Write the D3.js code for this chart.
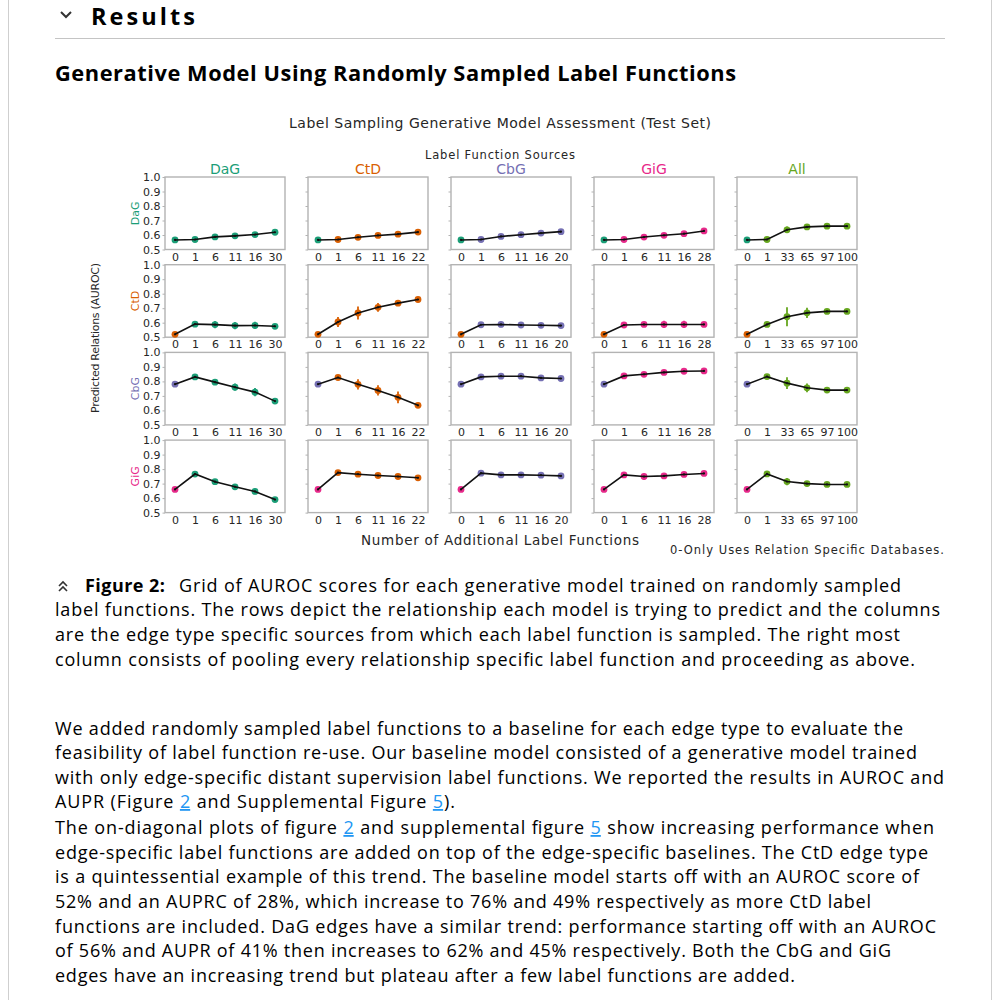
<!DOCTYPE html>
<html><head><meta charset="utf-8">
<script src="https://cdn.jsdelivr.net/npm/d3@7"></script>
<style>
html,body{margin:0;padding:0;background:#fff;}
svg{display:block;}
</style></head><body>
<svg id="page" width="1000" height="1000"></svg>
<script>
// ---------------- data ----------------
const columns = ["DaG", "CtD", "CbG", "GiG", "All"];
const rowsPredicted = ["DaG", "CtD", "CbG", "GiG"];
const sourceColors = ["#1b9e77", "#d95f02", "#7570b3", "#e7298a", "#66a61e"];
const tickLabelsDaG = ["0", "1", "6", "11", "16", "30"];
const tickLabelsCtD = ["0", "1", "6", "11", "16", "22"];
const tickLabelsCbG = ["0", "1", "6", "11", "16", "20"];
const tickLabelsGiG = ["0", "1", "6", "11", "16", "28"];
const tickLabelsAll = ["0", "1", "33", "65", "97", "100"];
const yTicks = [0.5, 0.6, 0.7, 0.8, 0.9, 1.0];

// AUROC per predicted relation (row); one array per label-function source (column)
const aurocDaG = [
  [0.566, 0.569, 0.587, 0.594, 0.603, 0.619],
  [0.566, 0.569, 0.584, 0.597, 0.606, 0.620],
  [0.566, 0.569, 0.590, 0.602, 0.613, 0.623],
  [0.566, 0.569, 0.586, 0.598, 0.609, 0.628],
  [0.566, 0.569, 0.636, 0.656, 0.661, 0.661]
];
const errDaG = [
  [0, 0.004, 0.012, 0.014, 0.008, 0.004],
  [0, 0.004, 0.005, 0.005, 0.005, 0.004],
  [0, 0.004, 0.006, 0.005, 0.004, 0.004],
  [0, 0.004, 0.005, 0.005, 0.004, 0.004],
  [0, 0.004, 0.022, 0.010, 0.005, 0.004]
];
const aurocCtD = [
  [0.520, 0.590, 0.587, 0.580, 0.581, 0.575],
  [0.520, 0.605, 0.667, 0.706, 0.735, 0.760],
  [0.520, 0.586, 0.588, 0.584, 0.582, 0.580],
  [0.520, 0.584, 0.588, 0.588, 0.588, 0.588],
  [0.520, 0.588, 0.641, 0.668, 0.678, 0.678]
];
const errCtD = [
  [0, 0.008, 0.025, 0.025, 0.025, 0.005],
  [0, 0.035, 0.045, 0.030, 0.015, 0.006],
  [0, 0.008, 0.020, 0.015, 0.010, 0.005],
  [0, 0.008, 0.015, 0.025, 0.025, 0.006],
  [0, 0.015, 0.065, 0.035, 0.010, 0.008]
];
const aurocCbG = [
  [0.781, 0.831, 0.795, 0.760, 0.726, 0.664],
  [0.781, 0.827, 0.780, 0.738, 0.690, 0.635],
  [0.781, 0.831, 0.836, 0.836, 0.824, 0.820],
  [0.781, 0.838, 0.849, 0.862, 0.870, 0.872],
  [0.781, 0.833, 0.788, 0.756, 0.740, 0.740]
];
const errCbG = [
  [0, 0.008, 0.015, 0.025, 0.028, 0.005],
  [0, 0.008, 0.035, 0.035, 0.040, 0.005],
  [0, 0.010, 0.015, 0.010, 0.008, 0.005],
  [0, 0.010, 0.015, 0.012, 0.008, 0.005],
  [0, 0.012, 0.040, 0.030, 0.008, 0.008]
];
const aurocGiG = [
  [0.660, 0.766, 0.713, 0.678, 0.646, 0.590],
  [0.660, 0.776, 0.765, 0.756, 0.749, 0.740],
  [0.660, 0.772, 0.760, 0.760, 0.758, 0.753],
  [0.660, 0.760, 0.749, 0.753, 0.763, 0.770],
  [0.660, 0.767, 0.714, 0.700, 0.694, 0.694]
];
const errGiG = [
  [0, 0.010, 0.015, 0.020, 0.020, 0.005],
  [0, 0.008, 0.008, 0.005, 0.005, 0.005],
  [0, 0.005, 0.005, 0.005, 0.005, 0.005],
  [0, 0.020, 0.020, 0.015, 0.015, 0.008],
  [0, 0.010, 0.025, 0.012, 0.008, 0.008]
];

const tickLabelsByColumn = [tickLabelsDaG, tickLabelsCtD, tickLabelsCbG, tickLabelsGiG, tickLabelsAll];
const aurocByRow = [aurocDaG, aurocCtD, aurocCbG, aurocGiG];
const errByRow = [errDaG, errCtD, errCbG, errGiG];

// ---------------- page ----------------
const svg = d3.select("#page");
const PAGE_FONT = "'Open Sans', 'Noto Sans', sans-serif";
const PLOT_FONT = "'DejaVu Sans', sans-serif";

svg.append("rect").attr("width", 1000).attr("height", 1000).attr("fill", "#fff");
// page borders
svg.append("line").attr("x1", 8.5).attr("x2", 8.5).attr("y1", 0).attr("y2", 1000).attr("stroke", "#cfcfcf");
svg.append("line").attr("x1", 991.5).attr("x2", 991.5).attr("y1", 0).attr("y2", 1000).attr("stroke", "#cfcfcf");

// Results heading
svg.append("path").attr("d", "M61,12 L66,17 L71,12").attr("fill", "none").attr("stroke", "#333").attr("stroke-width", 2);
svg.append("text").attr("x", 91).attr("y", 25.3).attr("font-family", PAGE_FONT).attr("font-weight", 700)
  .attr("font-size", 23.5).attr("textLength", 104).attr("fill", "#000").text("Results");
svg.append("line").attr("x1", 55).attr("x2", 945).attr("y1", 38.5).attr("y2", 38.5).attr("stroke", "#c4c4c4");

svg.append("text").attr("x", 55).attr("y", 81).attr("font-family", PAGE_FONT).attr("font-weight", 700)
  .attr("font-size", 21.8).attr("textLength", 681).attr("fill", "#000")
  .text("Generative Model Using Randomly Sampled Label Functions");

// ---------------- chart ----------------
const chart = svg.append("g").attr("font-family", PLOT_FONT);
const left0 = 165, top0 = 177, pitchX = 143, pitchY = 87.7, W = 120, H = 72.5;
const textColor = "#262626";

chart.append("text").attr("x", 500).attr("y", 128).attr("text-anchor", "middle").attr("font-size", 14)
  .attr("textLength", 422).attr("fill", textColor).text("Label Sampling Generative Model Assessment (Test Set)");
chart.append("text").attr("x", 500).attr("y", 159).attr("text-anchor", "middle").attr("font-size", 11.5)
  .attr("textLength", 150).attr("fill", textColor).text("Label Function Sources");

columns.forEach((c, ci) => {
  chart.append("text").attr("x", left0 + ci * pitchX + W / 2).attr("y", 174).attr("text-anchor", "middle")
    .attr("font-size", 14).attr("fill", sourceColors[ci]).text(c);
});

rowsPredicted.forEach((r, ri) => {
  const cy = top0 + ri * pitchY + H / 2;
  chart.append("text").attr("transform", `translate(139,${cy}) rotate(-90)`).attr("text-anchor", "middle")
    .attr("font-size", 11).attr("fill", sourceColors[ri]).text(r);
});

chart.append("text").attr("transform", "translate(99,338) rotate(-90)").attr("text-anchor", "middle")
  .attr("font-size", 11).attr("textLength", 150).attr("fill", textColor).text("Predicted Relations (AUROC)");

chart.append("text").attr("x", 500).attr("y", 545).attr("text-anchor", "middle").attr("font-size", 13.5)
  .attr("textLength", 278).attr("fill", textColor).text("Number of Additional Label Functions");
chart.append("text").attr("x", 944).attr("y", 554).attr("text-anchor", "end").attr("font-size", 11.5)
  .attr("textLength", 274).attr("fill", textColor).text("0-Only Uses Relation Specific Databases.");

rowsPredicted.forEach((rName, ri) => {
  columns.forEach((cName, ci) => {
    const gx = left0 + ci * pitchX, gy = top0 + ri * pitchY;
    const ticks = tickLabelsByColumn[ci];
    const x = d3.scalePoint().domain(ticks).range([gx + 10, gx + W - 10]);
    const y = d3.scaleLinear().domain([0.5, 1.0]).range([gy + H, gy]);
    const g = chart.append("g");

    g.append("rect").attr("x", gx).attr("y", gy).attr("width", W).attr("height", H)
      .attr("fill", "none").attr("stroke", "#b3b3b3").attr("stroke-width", 1.4);

    const ya = g.append("g").attr("transform", `translate(${gx},0)`)
      .call(d3.axisLeft(y).tickValues(yTicks).tickSize(2.5).tickPadding(2)
        .tickFormat(ci === 0 ? d3.format(".1f") : () => ""));
    ya.select(".domain").remove();
    ya.selectAll("line").attr("stroke", "#b3b3b3");
    ya.selectAll("text").attr("font-size", 11).attr("fill", textColor).attr("font-family", PLOT_FONT);

    const xa = g.append("g").attr("transform", `translate(0,${gy + H})`)
      .call(d3.axisBottom(x).tickSize(0).tickPadding(3.5));
    xa.select(".domain").remove();
    xa.selectAll("text").attr("font-size", 11).attr("fill", textColor).attr("font-family", PLOT_FONT);

    const vals = aurocByRow[ri][ci];
    const errs = errByRow[ri][ci];
    const pts = ticks.map((t, i) => ({ t, v: vals[i], e: errs[i], color: i === 0 ? sourceColors[ri] : sourceColors[ci] }));

    g.selectAll(".err").data(pts).enter().append("line")
      .attr("x1", d => x(d.t)).attr("x2", d => x(d.t))
      .attr("y1", d => y(d.v - d.e)).attr("y2", d => y(d.v + d.e))
      .attr("stroke", d => d.color).attr("stroke-width", 1.8);
    g.selectAll(".pt").data(pts).enter().append("circle")
      .attr("cx", d => x(d.t)).attr("cy", d => y(d.v)).attr("r", 3.4)
      .attr("fill", d => d.color);
    g.append("path").datum(pts)
      .attr("d", d3.line().x(d => x(d.t)).y(d => y(d.v)))
      .attr("fill", "none").attr("stroke", "#111").attr("stroke-width", 1.6);
    g.selectAll(".dot").data(pts).enter().append("circle")
      .attr("cx", d => x(d.t)).attr("cy", d => y(d.v)).attr("r", 1.1).attr("fill", "#111");
  });
});

// ---------------- caption & paragraph ----------------
const LINK = "#2196f3";
const BODY_SIZE = 18;
function textLine(segments, x, y, width, size) {
  const t = svg.append("text").attr("x", x).attr("y", y).attr("font-family", PAGE_FONT)
    .attr("font-size", size).attr("fill", "#000");
  if (width) t.attr("textLength", width);
  segments.forEach(s => {
    const ts = t.append("tspan").text(s.t);
    if (s.b) ts.attr("font-weight", 700);
    if (s.link) ts.attr("fill", LINK).attr("text-decoration", "underline");
  });
  return t;
}

// caption icon
svg.append("path").attr("d", "M59,586 L63,582 L67,586 M59,591 L63,587 L67,591")
  .attr("fill", "none").attr("stroke", "#333").attr("stroke-width", 1.6);
textLine([{ t: "Figure 2:", b: true }], 85, 592, 80, BODY_SIZE);
textLine([{ t: "Grid of AUROC scores for each generative model trained on randomly sampled" }], 179, 592, 722, BODY_SIZE);
textLine([{ t: "label functions. The rows depict the relationship each model is trying to predict and the columns" }], 55, 616, 885, BODY_SIZE);
textLine([{ t: "are the edge type specific sources from which each label function is sampled. The right most" }], 55, 641, 845, BODY_SIZE);
textLine([{ t: "column consists of pooling every relationship specific label function and proceeding as above." }], 55, 666, 860, BODY_SIZE);

const para = [
  [[{ t: "We added randomly sampled label functions to a baseline for each edge type to evaluate the" }], 848],
  [[{ t: "feasibility of label function re-use. Our baseline model consisted of a generative model trained" }], 862],
  [[{ t: "with only edge-specific distant supervision label functions. We reported the results in AUROC and" }], 889],
  [[{ t: "AUPR (Figure " }, { t: "2", link: true }, { t: " and Supplemental Figure " }, { t: "5", link: true }, { t: ")." }], 400],
  [[{ t: "The on-diagonal plots of figure " }, { t: "2", link: true }, { t: " and supplemental figure " }, { t: "5", link: true }, { t: " show increasing performance when" }], 879],
  [[{ t: "edge-specific label functions are added on top of the edge-specific baselines. The CtD edge type" }], 873],
  [[{ t: "is a quintessential example of this trend. The baseline model starts off with an AUROC score of" }], 864],
  [[{ t: "52% and an AUPRC of 28%, which increase to 76% and 49% respectively as more CtD label" }], 816],
  [[{ t: "functions are included. DaG edges have a similar trend: performance starting off with an AUROC" }], 881],
  [[{ t: "of 56% and AUPR of 41% then increases to 62% and 45% respectively. Both the CbG and GiG" }], 836],
  [[{ t: "edges have an increasing trend but plateau after a few label functions are added." }], 740]
];
const paraBaselines = [735, 759, 784, 808, 834, 859, 883, 908, 933, 957, 982];
para.forEach((p, i) => textLine(p[0], 55, paraBaselines[i], p[1], BODY_SIZE));
</script>
</body></html>
